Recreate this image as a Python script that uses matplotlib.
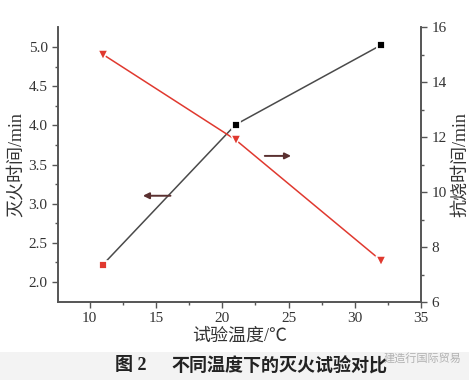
import matplotlib
matplotlib.use('Agg')
import matplotlib.pyplot as plt
from matplotlib.patches import Rectangle

plt.rcParams['font.family'] = ['Liberation Serif', 'Noto Sans CJK SC', 'DejaVu Sans']

# 数据
temperatures = [11, 21, 32]
extinguish_time = [2.22, 4.01, 5.03]     # 灭火时间/min (左轴)
burnback_time = [15.0, 11.9, 7.5]        # 抗烧时间/min (右轴)

fig = plt.figure(figsize=(4.69, 3.80), dpi=100)
ax = fig.add_axes([58 / 469, 1 - 302 / 380, (421 - 58) / 469, (302 - 27) / 380])
ax2 = ax.twinx()

grey = '#4a4a4a'
red = '#e0392f'

ax.plot(temperatures, extinguish_time, color=grey, lw=1.1, zorder=2)
ax.plot(temperatures[1:], extinguish_time[1:], 's', color='black', ms=5.5,
        mec='white', mew=1.3, zorder=3)
ax.plot(temperatures[:1], extinguish_time[:1], 's', color=red, ms=5.5,
        mec='white', mew=1.3, zorder=3)

ax2.plot(temperatures, burnback_time, color=red, lw=1.1, zorder=2)
ax2.plot(temperatures, burnback_time, 'v', color=red, ms=7.5,
         mec='white', mew=1.1, zorder=3)

# 指示箭头
arrow_style = dict(arrowstyle='-|>', color='#5a3030', lw=1.4, mutation_scale=9)
ax.annotate('', xy=(13.8, 3.10), xytext=(16.3, 3.10), arrowprops=arrow_style)
ax.annotate('', xy=(25.4, 3.61), xytext=(23.0, 3.61), arrowprops=arrow_style)

ax.set_xlim(7.6, 35)
ax.set_ylim(1.74, 5.26)
ax2.set_ylim(6, 16)

ax.set_xticks([10, 15, 20, 25, 30, 35])
ax.set_xticks([12.5, 17.5, 22.5, 27.5, 32.5], minor=True)
ax.set_yticks([2.0, 2.5, 3.0, 3.5, 4.0, 4.5, 5.0])
ax.set_yticks([2.25, 2.75, 3.25, 3.75, 4.25, 4.75], minor=True)
ax.set_yticklabels(['2.0', '2.5', '3.0', '3.5', '4.0', '4.5', '5.0'])
ax2.set_yticks([6, 8, 10, 12, 14, 16])
ax2.set_yticks([7, 9, 11, 13, 15], minor=True)

for a in (ax, ax2):
    a.spines['top'].set_visible(False)
    for s in a.spines.values():
        s.set_color('#555555')
        s.set_linewidth(1.2)
    a.tick_params(which='major', length=4, width=1, colors='#555555',
                  labelcolor='#333333', labelsize=11)
    a.tick_params(which='minor', length=2.5, width=1, colors='#555555')

ax.set_xlabel('试验温度/℃', fontsize=13, color='#333333', labelpad=2)
ax.set_ylabel('灭火时间/min', fontsize=13, color='#333333', labelpad=3)
ax2.set_ylabel('抗烧时间/min', fontsize=13, color='#333333', labelpad=4)

# 底部图注
fig.patches.append(Rectangle((0, 0), 1, 28 / 380, transform=fig.transFigure,
                             facecolor='#f3f3f3', edgecolor='none', zorder=0))
fig.text(0.245, 14 / 380, '图 2', fontsize=13, fontweight='bold',
         color='#222222', va='center', ha='left')
fig.text(0.365, 14 / 380, '不同温度下的灭火试验对比', fontsize=13,
         fontweight='bold', color='#222222', va='center', ha='left')
fig.text(0.985, 22 / 380, '建造行国际贸易', fontsize=8, color='#aaaaaa',
         va='center', ha='right', alpha=0.9)

fig.savefig('out.png', dpi=100)
